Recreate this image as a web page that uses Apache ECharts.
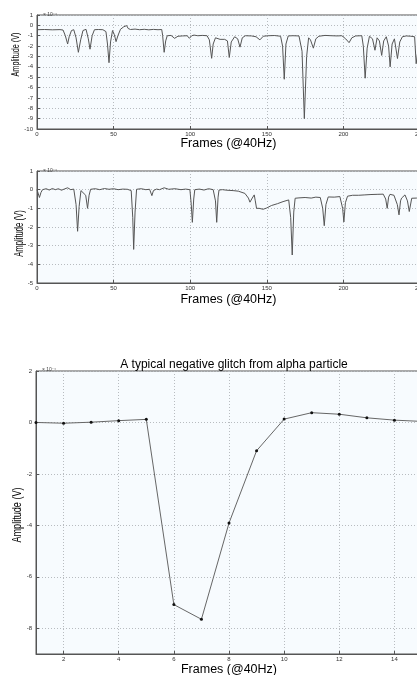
<!DOCTYPE html>
<html>
<head>
<meta charset="utf-8">
<title>Glitch traces</title>
<script src="https://cdn.jsdelivr.net/npm/echarts/dist/echarts.min.js"></script>
<style>
html, body { margin: 0; padding: 0; background: #fff; }
#container { width: 417px; height: 675px; }
</style>
</head>
<body>
<div id="container"></div>
<script>
// trace 1 (top panel), frames and amplitude in 1e-4 V
var frames1 = [0, 5, 10, 15, 17, 18.5, 20, 21, 22.5, 24, 25.5, 27, 28.5, 30, 32, 33.5, 34.6, 36, 37.5, 40,
    43, 45, 46, 47, 48, 49.3, 50.5, 51.6, 52.8, 54.5, 56.5, 58.5, 59.5, 61, 64, 67, 70, 73, 76, 79,
    81.4, 82, 83, 84, 85, 87.5, 89.8, 92, 95, 98, 99.5, 101, 102.5, 105, 108, 111, 112.5, 114, 115, 116.5,
    119.5, 122.5, 124.3, 125.5, 126.8, 129, 131, 132.5, 134, 136, 140, 143, 145.5, 147.7, 151, 155, 159, 160.3, 161.4, 162.5,
    164, 167, 171, 173, 174.5, 176, 177.3, 178.5, 180.4, 182, 184, 188, 192, 196, 199, 201.5, 203.7, 205.5, 208, 212,
    213, 214.2, 215.5, 217, 219, 220.6, 222, 223.5, 225, 226.3, 228, 229.5, 230.5, 231.8, 233.3, 235.3, 236.8, 238.5, 241, 244,
    246.5, 247.5, 249, 250];
var amp1 = [-0.42, -0.40, -0.43, -0.41, -0.45, -1.0, -1.8, -1.1, -0.5, -0.42, -1.2, -2.6, -1.4, -0.5, -0.38, -1.3, -2.3, -1.0, -0.42, -0.40,
    -0.42, -0.6, -1.8, -3.6, -1.6, -0.5, -0.9, -1.57, -1.0, -0.38, -0.15, -0.02, -0.3, -0.4, -0.36, -0.42, -0.38, -0.43, -0.39, -0.42,
    -0.40, -0.95, -2.6, -1.5, -1.0, -0.97, -1.25, -1.05, -1.02, -1.0, -1.25, -1.0, -0.94, -1.0, -0.97, -1.0, -1.4, -3.18, -1.8, -1.2,
    -1.35, -1.35, -1.5, -3.1, -1.6, -1.1, -1.3, -2.1, -1.2, -1.0, -1.02, -1.1, -1.4, -1.05, -1.0, -0.98, -1.05, -2.0, -5.2, -1.8,
    -1.02, -1.0, -1.02, -2.5, -9.0, -3.0, -1.2, -1.4, -2.2, -1.3, -1.05, -0.97, -1.0, -1.02, -1.0, -1.3, -1.67, -1.2, -1.02, -1.0,
    -2.0, -5.1, -2.2, -1.05, -1.3, -2.4, -1.2, -1.5, -2.9, -1.5, -1.1, -2.0, -4.0, -1.8, -1.3, -3.2, -1.6, -1.1, -1.02, -1.05,
    -1.1, -3.7, -2.0, -1.2];

// trace 2 (middle panel)
var frames2 = [0, 0.8, 1.6, 2.6, 3.6, 6, 8, 10, 12, 14, 16, 18, 20, 22, 24, 25.5, 26.5, 27.5, 28.7, 29.8,
    31.8, 33, 34, 35, 38, 41, 44, 47, 50, 53, 56, 59, 61.5, 62.5, 63.1, 64, 65, 68, 71, 73.5,
    75, 76, 78, 80, 83, 86, 90, 94, 97, 99.8, 100.7, 101.4, 102.3, 103, 106, 109, 112, 115, 116.5, 117.3,
    118.2, 118.8, 121, 124, 128, 131.4, 135.7, 138, 139, 140.5, 141.8, 142.5, 143.3, 145, 147.6, 150, 153, 157, 160.6, 164.3,
    165.6, 166.6, 167.6, 168.5, 171, 175, 179, 182, 184.9, 186.5, 187.5, 188.6, 190.1, 194, 197.7, 199.5, 200.3, 201.3, 202.7, 206,
    210, 214, 218, 222, 226, 227.6, 228.6, 229.5, 230.4, 233, 235.2, 236.3, 237.3, 238, 240.2, 241.8, 243, 244.6, 247.8, 250];
var amp2 = [0.0, -0.1, -0.42, -0.15, 0.0, 0.05, -0.02, 0.06, 0.0, 0.05, -0.03, 0.04, 0.1, 0.0, 0.03, -0.8, -2.23, -0.9, -0.05, 0.02,
    -0.3, -1.0, -0.3, 0.02, 0.05, 0.0, 0.06, 0.02, 0.05, 0.0, 0.03, 0.02, -0.05, -1.5, -3.2, -1.2, 0.02, 0.05, 0.0, 0.02,
    -0.32, -0.05, 0.03, 0.0, 0.1, 0.02, 0.05, 0.0, 0.03, 0.0, -0.8, -1.75, -0.5, 0.0, 0.03, -0.02, 0.05, 0.0, -0.6, -1.75,
    -0.4, -0.02, 0.0, -0.03, -0.05, -0.08, -0.2, -0.45, -0.67, -0.45, -0.28, -0.6, -1.0, -1.0, -1.05, -0.98, -0.85, -0.75, -0.64, -0.55,
    -1.5, -3.5, -1.2, -0.46, -0.44, -0.42, -0.45, -0.4, -0.42, -1.0, -1.93, -0.8, -0.39, -0.4, -0.37, -1.0, -1.73, -0.7, -0.35, -0.3,
    -0.3, -0.28, -0.26, -0.25, -0.24, -0.5, -1.0, -0.4, -0.25, -0.3, -0.8, -1.35, -0.6, -0.45, -0.28, -0.6, -1.17, -0.46, -0.45, -0.4];

// single glitch (bottom panel)
var glitchFrames = [1, 2, 3, 4, 5, 6, 7, 8, 9, 10, 11, 12, 13, 14, 15];
var glitchAmp = [0.0, -0.03, 0.01, 0.07, 0.12, -7.08, -7.65, -3.91, -1.1, 0.13, 0.38, 0.32, 0.18, 0.09, 0.04];

var titleText = 'A typical negative glitch from alpha particle';
var xName = 'Frames (@40Hz)';
var yName = 'Amplitude (V)';
var scaleText = '× 10⁻⁴';

function pairs(xs, ys) {
    var out = [];
    for (var i = 0; i < xs.length; i++) {
        out.push([xs[i], ys[i]]);
    }
    return out;
}

var FONT = 'Liberation Sans';
var tickLabel = { fontSize: 6, color: '#333', fontFamily: FONT, margin: 2 };
var yTickLabel = { fontSize: 6, color: '#333', fontFamily: FONT, margin: 4 };
var gridLine = { show: true, lineStyle: { color: '#b8bcc0', type: [1, 2], width: 1 } };
var axLine = { show: true, onZero: false, lineStyle: { color: '#555', width: 1 } };
var ticks = { show: true, inside: true, length: 3, lineStyle: { color: '#555' } };

function xAx(idx, min, max, interval, gap) {
    return {
        type: 'value', gridIndex: idx, min: min, max: max, interval: interval,
        name: xName, nameLocation: 'middle', nameGap: gap, nameMoveOverlap: false,
        nameTextStyle: { fontSize: 12.5, color: '#000', fontFamily: FONT },
        axisLine: axLine, axisTick: ticks, splitLine: gridLine,
        axisLabel: tickLabel
    };
}
function yAx(idx, min, max, interval) {
    return {
        type: 'value', gridIndex: idx, min: min, max: max, interval: interval,
        axisLine: axLine, axisTick: ticks, splitLine: gridLine,
        axisLabel: yTickLabel
    };
}
// vertical axis title, squeezed along its length like the source image
function yTitle(cx, cy, fs, squeeze) {
    return {
        type: 'text', x: cx, y: cy, rotation: Math.PI / 2, scaleX: squeeze,
        style: { text: yName, fontSize: fs, fontFamily: FONT, fill: '#000',
                 align: 'center', verticalAlign: 'middle' }
    };
}

var dom = document.getElementById('container');
var myChart = echarts.init(dom, null, { renderer: 'canvas' });

var gridBox = { show: true, borderColor: '#555', borderWidth: 1, backgroundColor: '#f7fbfe',
    outerBoundsMode: 'none', containLabel: false };

var option = {
    animation: false,
    backgroundColor: '#fff',
    title: [
        { text: titleText, left: 229, top: 354, textAlign: 'center',
          textStyle: { fontSize: 12, fontWeight: 'normal', color: '#000', fontFamily: FONT } },
        { text: scaleText, left: 38, top: 7, textStyle: { fontSize: 5, fontWeight: 'normal', color: '#444', fontFamily: FONT } },
        { text: scaleText, left: 38, top: 163, textStyle: { fontSize: 5, fontWeight: 'normal', color: '#444', fontFamily: FONT } },
        { text: scaleText, left: 37, top: 362, textStyle: { fontSize: 5, fontWeight: 'normal', color: '#444', fontFamily: FONT } }
    ],
    graphic: [
        yTitle(16, 54.5, 11, 0.66),
        yTitle(20, 233.5, 12, 0.64),
        yTitle(17, 515, 13, 0.7)
    ],
    grid: [
        Object.assign({ left: 37, top: 15, width: 383, height: 114 }, gridBox),
        Object.assign({ left: 37, top: 171, width: 383, height: 112 }, gridBox),
        Object.assign({ left: 36, top: 371, width: 386, height: 283 }, gridBox)
    ],
    xAxis: [
        xAx(0, 0, 250, 50, 8),
        xAx(1, 0, 250, 50, 10),
        Object.assign(xAx(2, 1, 15, null, 9), { splitNumber: 7,
            axisLabel: Object.assign({}, tickLabel, { showMinLabel: false, showMaxLabel: false }) })
    ],
    yAxis: [
        yAx(0, -10, 1, 1),
        yAx(1, -5, 1, 1),
        Object.assign(yAx(2, -9, 2, null), { splitNumber: 5,
            axisLabel: Object.assign({}, yTickLabel, { showMinLabel: false }) })
    ],
    series: [
        { type: 'line', xAxisIndex: 0, yAxisIndex: 0, data: pairs(frames1, amp1), showSymbol: false,
          lineStyle: { color: '#555', width: 1 } },
        { type: 'line', xAxisIndex: 1, yAxisIndex: 1, data: pairs(frames2, amp2), showSymbol: false,
          lineStyle: { color: '#555', width: 1 } },
        { type: 'line', xAxisIndex: 2, yAxisIndex: 2, data: pairs(glitchFrames, glitchAmp),
          symbol: 'circle', symbolSize: 3, itemStyle: { color: '#111' },
          lineStyle: { color: '#666', width: 1 } }
    ]
};

myChart.setOption(option);
</script>
</body>
</html>
